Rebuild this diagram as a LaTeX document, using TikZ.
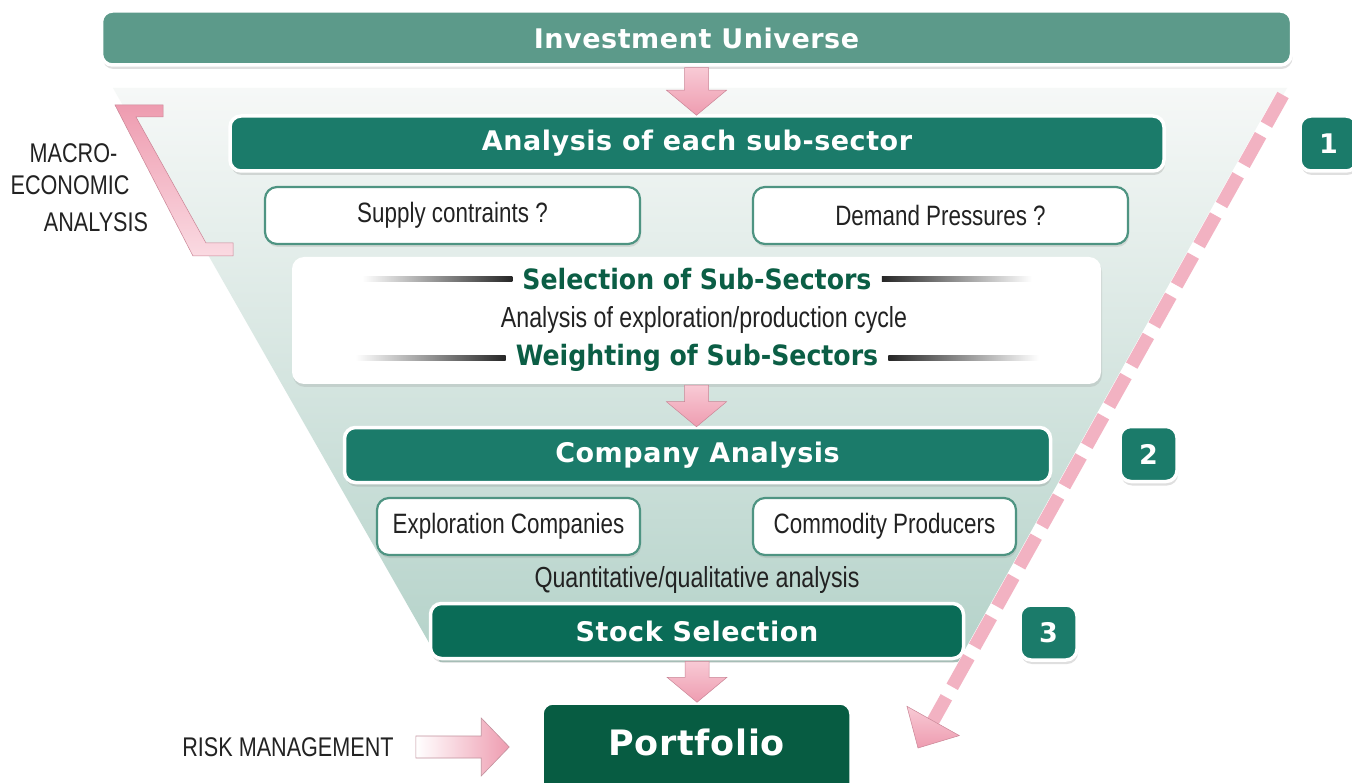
\documentclass[tikz,border=0pt]{standalone}
\usepackage{fontspec}
\setmainfont{Liberation Sans}
\newfontfamily\headfont[LetterSpace=2]{DejaVu Sans}
\newfontfamily\greenfont{DejaVu Sans Condensed}
\newfontfamily\condfont[FakeStretch=0.8]{Liberation Sans}
\usetikzlibrary{shadows,calc}
\definecolor{invfill}{HTML}{5C9A8A}
\definecolor{barfill}{HTML}{1B7B6A}
\definecolor{stockfill}{HTML}{0A6C57}
\definecolor{portfill}{HTML}{075C42}
\definecolor{subdraw}{HTML}{4E9482}
\definecolor{greentext}{HTML}{0B5E45}
\definecolor{pinkA}{HTML}{F8CAD5}
\definecolor{pinkB}{HTML}{EE9CB0}
\definecolor{pinkdash}{HTML}{F2B2C2}
\definecolor{funtop}{HTML}{F6F8F7}
\definecolor{funbot}{HTML}{B4D2C9}
\definecolor{textgray}{HTML}{222222}
\newcommand\pinkdown[2]{%
  \path[pinkfill] let \p1=(#1.south), \p2=(#2.north) in
   (\x1-12pt,\y1-1pt) -- (\x1+12pt,\y1-1pt) -- (\x1+12pt,\y2+24pt) -- (\x1+30pt,\y2+24pt)
   -- (\x1,\y2-1pt) -- (\x1-30pt,\y2+24pt) -- (\x1-12pt,\y2+24pt) -- cycle;}
\begin{document}
\begin{tikzpicture}[x=1pt,y=-1pt,
  bar/.style={draw=white, line width=3.5pt, rounded corners=11pt, text=white,
    font=\headfont\bfseries\fontsize{27}{30}\selectfont, inner sep=0pt,
    drop shadow={opacity=0.25, shadow xshift=1pt, shadow yshift=-4pt}},
  subbox/.style={draw=subdraw, fill=white, line width=2.2pt, rounded corners=12pt,
    font=\condfont\fontsize{28}{30}\selectfont, text=textgray, inner sep=0pt,
    drop shadow={opacity=0.2, shadow xshift=1pt, shadow yshift=-3pt}},
  badge/.style={bar, fill=barfill, minimum width=57pt, minimum height=55pt},
  condtxt/.style={font=\condfont\fontsize{29}{31}\selectfont, text=textgray, inner sep=0pt},
  macrotxt/.style={font=\condfont\fontsize{27}{30}\selectfont, text=textgray, inner sep=0pt},
  greentxt/.style={font=\greenfont\bfseries\fontsize{28}{30}\selectfont, text=greentext, inner sep=0pt},
  pinkfill/.style={top color=pinkA, bottom color=pinkB, draw=pinkB!85!black, line width=0.5pt}
]
\useasboundingbox (0,0) rectangle (1352,783);
\clip (0,0) rectangle (1352,783);
\fill[white] (0,0) rectangle (1352,783);
% funnel
\shade[top color=funtop, bottom color=funbot] (113,88) -- (1287,88) -- (966,662) -- (440,662) -- cycle;

% boxes
\node[bar, fill=invfill, minimum width=1190pt, minimum height=54pt] (inv) at (696.5,38) {Investment Universe};
\node[bar, fill=barfill, minimum width=934pt, minimum height=55pt] (sub) at (697,143.5) {Analysis of each sub-sector};
\node[subbox, minimum width=375pt, minimum height=57pt] (supply) at (452.5,215.5) {Supply contraints ?};
\node[subbox, minimum width=375pt, minimum height=57pt] (demand) at (940.5,215.5) {Demand Pressures ?};
\node[fill=white, rounded corners=12pt, minimum width=809pt, minimum height=127pt,
  drop shadow={opacity=0.2, shadow xshift=1pt, shadow yshift=-3pt}] (selbox) at (696.5,320.5) {};
\node[greentxt] (seltxt) at (697,279) {Selection of Sub-Sectors};
\node[condtxt] (anatxt) at (704,320) {Analysis of exploration/production cycle};
\node[greentxt] (wgttxt) at (697,358) {Weighting of Sub-Sectors};
\node[bar, fill=barfill, minimum width=706pt, minimum height=55pt] (comp) at (697.5,455) {Company Analysis};
\node[subbox, minimum width=263pt, minimum height=57pt] (expl) at (508.5,526.5) {Exploration Companies};
\node[subbox, minimum width=263pt, minimum height=57pt] (comm) at (884.5,526.5) {Commodity Producers};
\node[condtxt] (quant) at (697,580) {Quantitative/qualitative analysis};
\node[bar, fill=stockfill, minimum width=533pt, minimum height=55pt] (stock) at (697,631) {Stock Selection};
\node[bar, fill=portfill, minimum width=309pt, minimum height=92pt, text depth=14pt,
  font=\headfont\bfseries\fontsize{35}{38}\selectfont] (port) at (696.5,749) {Portfolio};

% badges
\node[badge] (b1) at (1328.5,143.5) {1};
\node[badge] (b2) at (1148.5,454) {2};
\node[badge] (b3) at (1048.5,632.5) {3};

% gradient rules in selection box
\foreach \t in {seltxt,wgttxt}{
  \shade[left color=white, right color=black!85] ($(\t.west)+(-160pt,-2.5pt)$) rectangle ($(\t.west)+(-10pt,2.5pt)$);
  \shade[left color=black!85, right color=white] ($(\t.east)+(10pt,-2.5pt)$) rectangle ($(\t.east)+(160pt,2.5pt)$);
}

% down arrows
\pinkdown{inv}{sub}
\pinkdown{selbox}{comp}
\pinkdown{stock}{port}

% left texts
\node[macrotxt] (macro1) at (73.5,153) {MACRO-};
\node[macrotxt] (macro2) at (70,185) {ECONOMIC};
\node[macrotxt] (macro3) at (96,222) {ANALYSIS};
\node[macrotxt] (risk) at (288,747) {RISK MANAGEMENT};

% bracket
\path[top color=pinkB, bottom color=pinkA!70!white, draw=pinkB!85!black, line width=0.5pt]
  (115,105) -- (163,105) -- (163,117) -- (136,117) -- (206,243) -- (233,243) -- (233,256) -- (193,256) -- cycle;

% risk arrow
\path[left color=white, right color=pinkB, draw=pinkB!60!gray, line width=0.6pt]
  let \p1=(risk.east), \p2=(port.west) in
  (\x1+22pt,\y1+11pt) -- (\x2-59pt,\y1+11pt) -- (\x2-59pt,\y1+29pt) -- (\x2-31pt,\y1)
  -- (\x2-59pt,\y1-29pt) -- (\x2-59pt,\y1-11pt) -- (\x1+22pt,\y1-11pt) -- cycle;

% dashed diagonal arrow
\coordinate (dstart) at (1283,95);
\coordinate (dtip) at (918,748);
\coordinate (dbase) at ($(dtip)!31pt!(dstart)$);
\draw[white, line width=14pt] (dstart) -- (dbase);
\draw[pinkdash, line width=13pt, dash pattern=on 34pt off 12pt] (dstart) -- (dbase);
\path[pinkfill] (dtip) -- ($(dbase)!30pt!90:(dtip)$) -- ($(dbase)!30pt!-90:(dtip)$) -- cycle;
\end{tikzpicture}
\end{document}
